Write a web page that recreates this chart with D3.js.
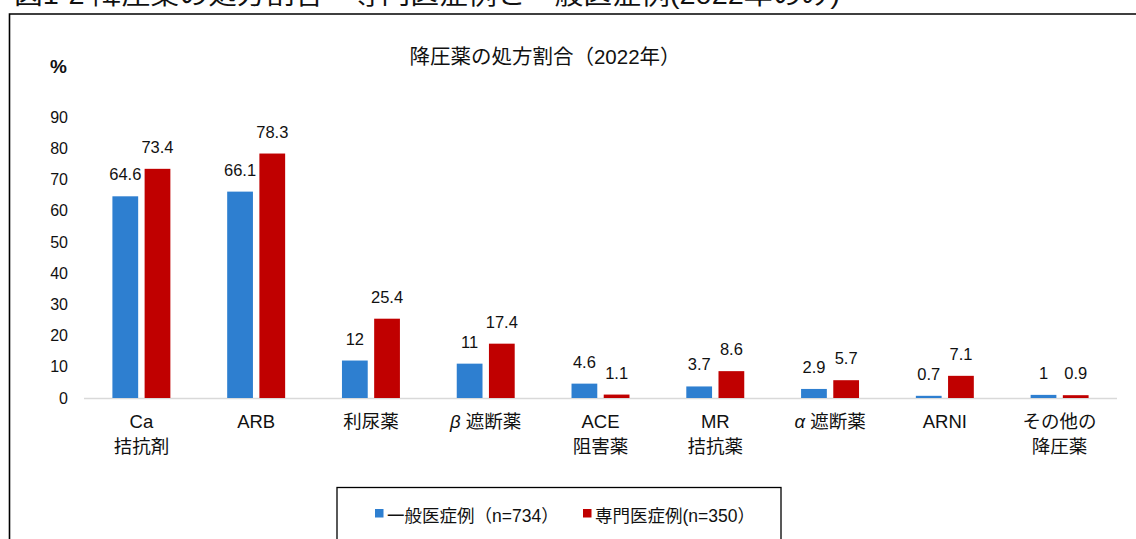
<!DOCTYPE html>
<html>
<head>
<meta charset="utf-8">
<script src="https://cdn.jsdelivr.net/npm/d3@7"></script>
<style>
    body { margin: 0; background: #fff; }
    svg { display: block; font-family: "Liberation Sans", "Noto Sans CJK JP", sans-serif; }
</style>
</head>
<body>
<div id="chart"></div>
<script>

// Data ////////////////////////////////////////

const categories = [
    ["Ca", "拮抗剤"], ["ARB"], ["利尿薬"], ["β|遮断薬"], ["ACE", "阻害薬"],
    ["MR", "拮抗薬"], ["α|遮断薬"], ["ARNI"], ["その他の", "降圧薬"]
];
const seriesNames = ["一般医症例（n=734）", "専門医症例(n=350）"];
const general = [64.6, 66.1, 12, 11, 4.6, 3.7, 2.9, 0.7, 1];
const specialist = [73.4, 78.3, 25.4, 17.4, 1.1, 8.6, 5.7, 7.1, 0.9];
const yTicks = [0, 10, 20, 30, 40, 50, 60, 70, 80, 90];

const colors = ["#2E7FD0", "#C00000"];

// Layout //////////////////////////////////////

const width = 1136, height = 539;
const plot = { left: 84, right: 1117, top: 117, bottom: 398 };

const svg = d3.select("#chart").append("svg")
    .attr("width", width)
    .attr("height", height);

// cut-off page heading
svg.append("text")
    .attr("x", 14)
    .attr("y", 4)
    .style("font-size", "25px")
    .attr("textLength", 826)
    .attr("lengthAdjust", "spacingAndGlyphs")
    .attr("fill", "#111")
    .text("図1-2 降圧薬の処方割合　専門医症例と一般医症例(2022年のみ)");

// outer frame (left and top only visible)
svg.append("path")
    .attr("d", `M9.5,${height} V14 H${width}`)
    .attr("fill", "none")
    .attr("stroke", "#000")
    .attr("stroke-width", 1.6);

svg.append("text")
    .attr("x", 545)
    .attr("y", 64)
    .attr("text-anchor", "middle")
    .style("font-size", "20.5px")
    .attr("fill", "#111")
    .text("降圧薬の処方割合（2022年）");

svg.append("text")
    .attr("x", 50)
    .attr("y", 73)
    .style("font-size", "19px")
    .style("font-weight", "bold")
    .attr("fill", "#111")
    .text("%");

// Scales //////////////////////////////////////

const x0 = d3.scaleBand()
    .domain(d3.range(categories.length))
    .range([plot.left, plot.right])
    .paddingInner(0.495)
    .paddingOuter(0.2475);

const x1 = d3.scaleBand()
    .domain([0, 1])
    .range([0, x0.bandwidth()])
    .paddingInner(0.2);

const y = d3.scaleLinear()
    .domain([0, 90])
    .range([plot.bottom, plot.top]);

// Axis ////////////////////////////////////////

const yAxis = svg.append("g")
    .attr("transform", `translate(${plot.left},0)`)
    .call(d3.axisLeft(y).tickValues(yTicks).tickSize(0).tickPadding(16));
yAxis.select(".domain").remove();
yAxis.selectAll("text")
    .style("font-family", "Liberation Sans, sans-serif")
    .style("font-size", "16px")
    .attr("fill", "#111");

svg.append("line")
    .attr("x1", plot.left)
    .attr("x2", plot.right)
    .attr("y1", y(0) + 0.5)
    .attr("y2", y(0) + 0.5)
    .attr("stroke", "#d9d9d9")
    .attr("stroke-width", 1.5);

// Bars ////////////////////////////////////////

const rows = categories.map((c, i) => ({ i, values: [general[i], specialist[i]] }));

const groups = svg.append("g").selectAll("g")
    .data(rows)
    .join("g")
    .attr("transform", d => `translate(${x0(d.i)},0)`);

groups.selectAll("rect")
    .data(d => d.values.map((v, s) => ({ v, s })))
    .join("rect")
    .attr("x", d => x1(d.s))
    .attr("y", d => y(d.v))
    .attr("width", x1.bandwidth())
    .attr("height", d => y(0) - y(d.v))
    .attr("fill", d => colors[d.s]);

groups.selectAll("text.value")
    .data(d => d.values.map((v, s) => ({ v, s })))
    .join("text")
    .attr("class", "value")
    .attr("x", d => x1(d.s) + x1.bandwidth() / 2)
    .attr("y", d => y(d.v) - 16)
    .attr("text-anchor", "middle")
    .style("font-size", "16.5px")
    .attr("fill", "#111")
    .text(d => d.v);

// Category labels /////////////////////////////

const catLabels = svg.append("g").selectAll("text")
    .data(categories)
    .join("text")
    .attr("text-anchor", "middle")
    .style("font-size", "18.5px")
    .attr("fill", "#111")
    .attr("transform", (d, i) => `translate(${x0(i) + x0.bandwidth() / 2},428)`);

catLabels.each(function (lines) {
    const t = d3.select(this);
    lines.forEach((line, k) => {
        if (line.includes("|")) {
            const [greek, rest] = line.split("|");
            const ts = t.append("tspan").attr("x", 0).attr("y", k * 25);
            ts.append("tspan").style("font-style", "italic").text(greek + " ");
            ts.append("tspan").text(rest);
        } else {
            t.append("tspan").attr("x", 0).attr("y", k * 25).text(line);
        }
    });
});

// Legend //////////////////////////////////////

svg.append("rect")
    .attr("x", 337)
    .attr("y", 487.5)
    .attr("width", 444)
    .attr("height", 80)
    .attr("fill", "none")
    .attr("stroke", "#000")
    .attr("stroke-width", 1.3);

const legendX = [375, 583];
const legend = svg.append("g").selectAll("g")
    .data(seriesNames)
    .join("g")
    .attr("transform", (d, i) => `translate(${legendX[i]},509)`);
legend.append("rect")
    .attr("width", 8.5)
    .attr("height", 8.5)
    .attr("fill", (d, i) => colors[i]);
legend.append("text")
    .attr("x", 12)
    .attr("y", 12.5)
    .style("font-size", "17.5px")
    .attr("fill", "#111")
    .text(d => d);

</script>
</body>
</html>
